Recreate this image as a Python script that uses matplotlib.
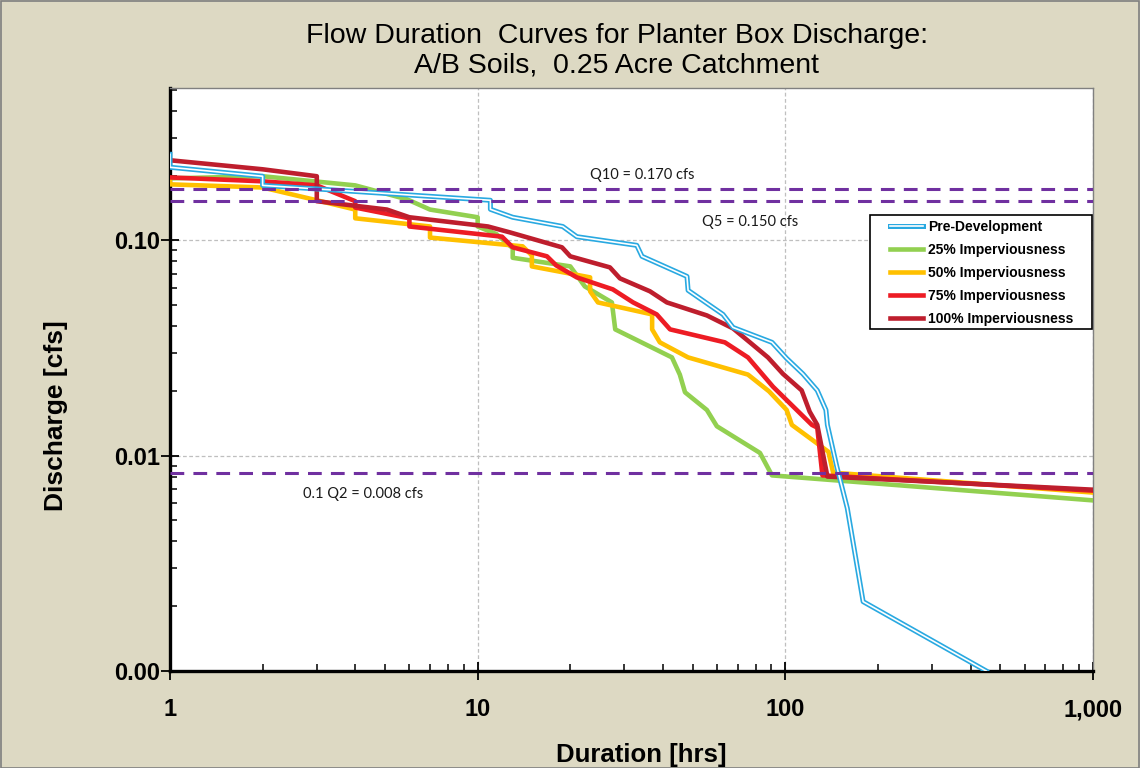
import matplotlib
matplotlib.use("Agg")
import matplotlib.pyplot as plt
import matplotlib.patheffects as pe
from matplotlib.ticker import FixedLocator, FuncFormatter, LogLocator, NullFormatter
from matplotlib.patches import Rectangle

# ---------------- data (duration hrs, discharge cfs) ----------------
pre_x = [1.0, 1.0, 2.0, 2.0, 11.0, 11.0, 13.0, 18.9, 21.0, 32.9, 34.2, 47.9, 48.3, 62.7, 67.6,
         90.5, 101, 114, 127, 135.5, 137, 147, 159, 179, 450]
pre_y = [0.251, 0.2185, 0.1985, 0.180, 0.1535, 0.1394, 0.128, 0.116, 0.104, 0.0948, 0.0843,
         0.068, 0.0586, 0.0453, 0.0394, 0.0336, 0.0283, 0.024, 0.0201, 0.0163, 0.0139, 0.0089,
         0.0057, 0.0021, 0.001]

imp25_x = [1, 2, 4, 5.9, 7, 10, 10, 11.5, 13, 13, 20, 22.3, 27.3, 28, 42.8, 45.4, 47.2, 55.6,
           59.9, 82.7, 90.5, 1000]
imp25_y = [0.194, 0.1985, 0.180, 0.155, 0.139, 0.128, 0.116, 0.107, 0.092, 0.083, 0.0757, 0.0611,
           0.0515, 0.0386, 0.0286, 0.0238, 0.0197, 0.0163, 0.0137, 0.0103, 0.0081, 0.0062]

imp50_x = [1, 1, 2, 3, 4, 4, 7, 7, 14, 15, 15, 23.2, 23.2, 24.6, 36.9, 36.9, 39.1, 48.3, 75.6,
           88.5, 101, 105, 126, 138, 143, 1000]
imp50_y = [0.190, 0.182, 0.176, 0.1535, 0.139, 0.1266, 0.116, 0.103, 0.0938, 0.0852, 0.0757,
           0.0673, 0.058, 0.0515, 0.0453, 0.0386, 0.0336, 0.0286, 0.0238, 0.0199, 0.0163, 0.0139,
           0.01148, 0.01043, 0.00834, 0.00674]

imp75_x = [1, 2, 3, 4, 4, 6, 6, 12, 13, 16.8, 18, 21, 27.5, 32, 38.2, 42.2, 63.6, 75.6, 91.2,
           122, 127, 132, 1000]
imp75_y = [0.196, 0.188, 0.180, 0.152, 0.142, 0.1266, 0.116, 0.104, 0.0928, 0.0843, 0.0765,
           0.0673, 0.0592, 0.0515, 0.0453, 0.0386, 0.0336, 0.0286, 0.0209, 0.0139, 0.0135,
           0.0081, 0.00688]

imp100_x = [1, 2, 3, 3, 5.07, 6, 10.8, 12.7, 18.8, 20, 26.9, 29, 36.3, 41.2, 55.6, 67.6, 76.7,
            87.8, 98.2, 113, 120, 127, 137, 1000]
imp100_y = [0.2355, 0.2138, 0.1985, 0.152, 0.139, 0.128, 0.116, 0.109, 0.0928, 0.0843, 0.0749,
            0.0666, 0.058, 0.0515, 0.0448, 0.039, 0.0336, 0.0286, 0.024, 0.0201, 0.016, 0.0139,
            0.0080, 0.00695]

thresholds = [0.174, 0.153, 0.0083]
threshold_labels = ["Q10 = 0.170 cfs", "Q5 = 0.150 cfs", "0.1 Q2 = 0.008 cfs"]
label_x = [34.2, 76.7, 4.24]
label_y = [0.2004, 0.1213, 0.00665]

x_ticks = [1, 10, 100, 1000]
x_ticklabels = ["1", "10", "100", "1,000"]
y_ticks = [0.001, 0.01, 0.1]
y_ticklabels = ["0.00", "0.01", "0.10"]

series_labels = ["Pre-Development", "25% Imperviousness", "50% Imperviousness",
                 "75% Imperviousness", "100% Imperviousness"]

# ---------------- figure ----------------
W, H = 1140, 768
BG = "#DDD9C3"
fig = plt.figure(figsize=(11.4, 7.68), dpi=100, facecolor=BG)
fig.patches.append(Rectangle((0.0005, 0.0005), 0.999, 0.998, transform=fig.transFigure,
                             fill=False, edgecolor="#7F7F7F", linewidth=1.2))
L, R, T, B = 170, 1093, 88, 671
ax = fig.add_axes([L / W, 1 - B / H, (R - L) / W, (B - T) / H])
ax.set_facecolor("white")
ax.set_xscale("log")
ax.set_yscale("log")
ax.set_xlim(1, 1000)
ax.set_ylim(0.001, 0.51)


def axx(px):
    return (px - L) / (R - L)


def axy(py):
    return (B - py) / (B - T)


BLUE = "#29A9E1"
lw = 3.3
l25, = ax.plot(imp25_x, imp25_y, color="#92D050", lw=lw, zorder=3, label=series_labels[1])
l50, = ax.plot(imp50_x, imp50_y, color="#FFC000", lw=lw, zorder=3.1, label=series_labels[2])
l75, = ax.plot(imp75_x, imp75_y, color="#ED1C24", lw=lw, zorder=3.2, label=series_labels[3])
l100, = ax.plot(imp100_x, imp100_y, color="#BE1E2D", lw=lw, zorder=3.3, label=series_labels[4])
lpre, = ax.plot(pre_x, pre_y, color="white", lw=1.2, zorder=3.5, label=series_labels[0],
                path_effects=[pe.Stroke(linewidth=3.6, foreground=BLUE), pe.Normal()])

for t in thresholds:
    ax.axhline(t, color="#7030A0", lw=2.2, ls=(0, (4.5, 3)), zorder=4)

for lx, ly, txt in zip(label_x, label_y, threshold_labels):
    ax.text(lx, ly, txt, ha="center", va="center", family=["Lato", "DejaVu Sans"],
            fontsize=10.5, color="#1a1a1a")

# grid
ax.grid(True, which="major", color="#BFBFBF", ls=(0, (3, 2)), lw=0.9, zorder=0)
ax.set_axisbelow(True)

# spines
for s in ["left", "bottom"]:
    ax.spines[s].set_color("black")
    ax.spines[s].set_linewidth(2.4)
for s in ["top", "right"]:
    ax.spines[s].set_color("#808080")
    ax.spines[s].set_linewidth(1.0)

# ticks
ax.xaxis.set_major_locator(FixedLocator(x_ticks))
ax.xaxis.set_major_formatter(FuncFormatter(lambda v, p: x_ticklabels[x_ticks.index(v)] if v in x_ticks else ""))
ax.yaxis.set_major_locator(FixedLocator(y_ticks))
ax.yaxis.set_major_formatter(FuncFormatter(lambda v, p: y_ticklabels[y_ticks.index(v)] if v in y_ticks else ""))
ax.xaxis.set_minor_locator(LogLocator(base=10, subs=range(2, 10)))
ax.yaxis.set_minor_locator(LogLocator(base=10, subs=range(2, 10)))
ax.xaxis.set_minor_formatter(NullFormatter())
ax.yaxis.set_minor_formatter(NullFormatter())
ax.tick_params(which="major", direction="inout", length=13, width=1.3, color="black")
ax.tick_params(which="minor", direction="in", length=5, width=1.1, color="black")
ax.tick_params(axis="x", which="major", pad=13)
ax.tick_params(axis="y", which="major", pad=0.5)
ax.tick_params(top=False, right=False, which="both")
for lab in ax.get_xticklabels() + ax.get_yticklabels():
    lab.set_fontfamily(["Liberation Sans", "DejaVu Sans"])
    lab.set_fontweight("bold")
    lab.set_fontsize(17)

ax.set_xlabel("Duration [hrs]", fontsize=18.5, fontweight="bold",
              family=["Liberation Sans", "DejaVu Sans"])
ax.set_ylabel("Discharge [cfs]", fontsize=19, fontweight="bold",
              family=["Liberation Sans", "DejaVu Sans"])
ax.xaxis.set_label_coords(axx(641), axy(743))
ax.yaxis.set_label_coords(axx(68), axy(416))

fig.text(617 / W, 1 - 43 / H, "Flow Duration  Curves for Planter Box Discharge:",
         ha="center", va="baseline", fontsize=20.5, family=["Liberation Sans", "DejaVu Sans"])
fig.text(617 / W, 1 - 73 / H, "A/B Soils,  0.25 Acre Catchment",
         ha="center", va="baseline", fontsize=20.5, family=["Liberation Sans", "DejaVu Sans"])

# legend box (drawn separately) and entries
ax.add_patch(Rectangle((axx(870), axy(329)), axx(1092) - axx(870), axy(215) - axy(329),
                       transform=ax.transAxes, facecolor="white", edgecolor="black",
                       linewidth=1.2, zorder=6))
leg = ax.legend(handles=[lpre, l25, l50, l75, l100], loc="upper left",
                bbox_to_anchor=(axx(890), axy(220)),
                prop=dict(family=["Liberation Sans", "DejaVu Sans"], weight="bold", size=10),
                frameon=False, handlelength=2.4, labelspacing=0.65, borderpad=0,
                handletextpad=0.35, borderaxespad=0)
leg.set_zorder(7)

fig.savefig("out.png", dpi=100, facecolor=BG)
